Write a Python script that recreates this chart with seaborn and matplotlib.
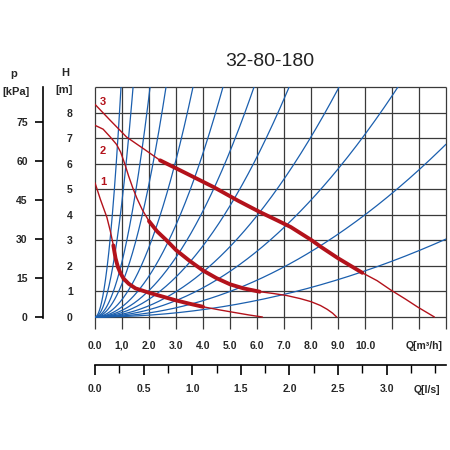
import numpy as np
import matplotlib

matplotlib.use('Agg')
import matplotlib.pyplot as plt
import seaborn as sns

# --- values ---
# pump curves: flow Q [m3/h] and head H [m]
q_curve1 = [0, 0.2, 0.44, 0.57, 0.68, 0.76, 0.85, 0.95, 1.06, 1.25, 1.5, 2.0, 2.5,
            3.0, 3.5, 4.0, 4.6, 5.2, 5.7, 6.2]
h_curve1 = [5.25, 4.6, 3.9, 3.35, 2.8, 2.3, 1.95, 1.7, 1.5, 1.3, 1.12, 0.95, 0.8,
            0.65, 0.52, 0.4, 0.28, 0.17, 0.08, 0.0]
q_curve2 = [0, 0.3, 0.56, 0.8, 0.95, 1.1, 1.25, 1.4, 1.55, 1.75, 2.0, 2.3, 2.65, 3.0,
            3.5, 4.0, 4.5, 5.0, 5.5, 6.1, 6.6, 7.1, 7.6, 8.0, 8.35, 8.6, 8.8, 8.95]
h_curve2 = [7.5, 7.35, 7.05, 6.75, 6.45, 6.0, 5.5, 5.05, 4.65, 4.2, 3.75, 3.35, 3.0, 2.62,
            2.2, 1.82, 1.52, 1.28, 1.12, 0.99, 0.92, 0.84, 0.72, 0.6, 0.45, 0.3, 0.15, 0.0]
q_curve3 = [0, 0.56, 1.17, 1.79, 2.41, 3.4, 4.4, 5.3, 6.1, 6.75, 7.25, 8.0, 8.4, 9.0,
            9.9, 10.45, 10.95, 11.5, 11.95, 12.3, 12.57]
h_curve3 = [8.32, 7.7, 7.04, 6.59, 6.13, 5.61, 5.08, 4.55, 4.11, 3.78, 3.52, 3.02, 2.72, 2.3,
            1.73, 1.42, 1.06, 0.7, 0.39, 0.17, 0.0]
curve_names = ["1", "2", "3"]
label_q = [0.3, 0.3, 0.3]
label_h = [5.3, 6.5, 8.4]
# flow range where each pump curve is drawn bold
bold_from = [0.6, 1.85, 2.4]
bold_to = [4.1, 6.4, 10.4]

# system curves (H = k*Q^2): point where each one leaves the grid
system_exit_q = [0.963, 1.41, 2.04, 2.63, 3.63, 4.74, 5.89, 7.19, 9.04, 11.22, 13.0, 13.0]
system_exit_h = [9, 9, 9, 9, 9, 9, 9, 9, 9, 9, 6.76, 3.05]

q_labels = ["0.0", "1,0", "2.0", "3.0", "4.0", "5.0", "6.0", "7.0", "8.0", "9.0", "10.0"]
h_labels = ["0", "1", "2", "3", "4", "5", "6", "7", "8"]
p_ticks = [0, 15, 30, 45, 60, 75]
ls_ticks = [0.0, 0.5, 1.0, 1.5, 2.0, 2.5, 3.0]
ls_minor = [0.25, 0.75, 1.25, 1.75, 2.25, 2.75, 3.25, 3.5]

title = "32-80-180"

RED = '#b3121b'
BLUE = '#1b5fae'
GRID = '#3a3a3a'

sns.set_theme(style='white')
plt.rcParams['font.family'] = ['Liberation Sans', 'DejaVu Sans']


def fx(px):
    return px / 450.0


def fy(py):
    return 1 - py / 450.0


fig = plt.figure(figsize=(4.5, 4.5), dpi=100)

# main H-Q grid
ybot = -0.45
ax = fig.add_axes([fx(95), fy(328.5), 351 / 450, (328.5 - 87) / 450])
ax.set_xlim(0, 13)
ax.set_ylim(ybot, 9)
for s in ax.spines.values():
    s.set_visible(False)
ax.set_facecolor('none')

ax.vlines(np.arange(14), ybot, 9, color=GRID, lw=0.9, clip_on=False, zorder=1)
ax.hlines(np.arange(10), 0, 13, color=GRID, lw=0.9, clip_on=False, zorder=1)

# system curves
for qe, he in zip(system_exit_q, system_exit_h):
    k = he / qe ** 2
    qq = np.linspace(0, qe, 200)
    ax.plot(qq, k * qq ** 2, color=BLUE, lw=0.9, zorder=2)

# pump curves
for q, h, lo, hi in zip([q_curve1, q_curve2, q_curve3],
                        [h_curve1, h_curve2, h_curve3],
                        bold_from, bold_to):
    q = np.array(q)
    h = np.array(h)
    sns.lineplot(x=q, y=h, ax=ax, color=RED, lw=1.0, sort=False, estimator=None, zorder=3)
    m = (q >= lo) & (q <= hi)
    sns.lineplot(x=q[m], y=h[m], ax=ax, color=RED, lw=2.8, sort=False, estimator=None,
                 zorder=4, solid_capstyle='round')

for name, lq, lh in zip(curve_names, label_q, label_h):
    ax.text(lq, lh, name, color=RED, fontsize=8, fontweight='bold',
            ha='center', va='center', zorder=5)

ax.set_xticks(np.arange(len(q_labels)))
ax.set_xticklabels(q_labels, fontsize=7.5, fontweight='bold')
ax.set_yticks(np.arange(len(h_labels)))
ax.set_yticklabels(h_labels, fontsize=7.5, fontweight='bold')
ax.tick_params(axis='x', length=0, pad=9)
ax.tick_params(axis='y', length=0, pad=16)
ax.set_xlabel('')
ax.set_ylabel('')

fig.text(fx(65), fy(73), 'H', fontsize=8, fontweight='bold', ha='center', va='center')
fig.text(fx(64), fy(90), '[m]', fontsize=8, fontweight='bold', ha='center', va='center')

# pressure axis [kPa]
ax_p = fig.add_axes([fx(43), fy(328.5), 0.001, (328.5 - 87) / 450])
ax_p.set_ylim(ybot * 9.81, 9 * 9.81)
ax_p.set_facecolor('none')
for side in ['top', 'right', 'bottom']:
    ax_p.spines[side].set_visible(False)
ax_p.spines['left'].set_color('black')
ax_p.spines['left'].set_linewidth(1.2)
ax_p.spines['left'].set_bounds(-0.2, 9 * 9.81)
ax_p.set_xticks([])
ax_p.set_yticks(p_ticks)
ax_p.set_yticklabels([str(v) for v in p_ticks], fontsize=7.5, fontweight='bold')
ax_p.tick_params(axis='y', direction='out', length=6, width=1.2, color='black', pad=5, left=True)
fig.text(fx(14), fy(74), 'p', fontsize=8, fontweight='bold', ha='center', va='center')
fig.text(fx(16), fy(92), '[kPa]', fontsize=8, fontweight='bold', ha='center', va='center')

# second flow axis [l/s]
ax_q = fig.add_axes([fx(95), fy(365), 351 / 450, 0.001])
ax_q.set_xlim(0, 13 / 3.6)
ax_q.set_facecolor('none')
for side in ['top', 'right', 'left']:
    ax_q.spines[side].set_visible(False)
ax_q.spines['bottom'].set_color('black')
ax_q.spines['bottom'].set_linewidth(1.2)
ax_q.set_yticks([])
ax_q.set_xticks(ls_ticks)
ax_q.set_xticklabels([f'{v:.1f}' for v in ls_ticks], fontsize=7.5, fontweight='bold')
ax_q.set_xticks(ls_minor, minor=True)
ax_q.tick_params(axis='x', which='major', direction='out', length=7, width=1.2,
                 color='black', pad=7, bottom=True)
ax_q.tick_params(axis='x', which='minor', direction='out', length=5.5, width=1.0,
                 color='black', bottom=True)

fig.text(fx(424), fy(346), 'Q[m³/h]', fontsize=7.5, fontweight='bold', ha='center', va='center')
fig.text(fx(427), fy(390), 'Q[l/s]', fontsize=7.5, fontweight='bold', ha='center', va='center')

fig.text(fx(270), fy(62), title, fontsize=14, ha='center', va='center', color='#222222')

fig.savefig('out.png', dpi=100, facecolor='white')
plt.close(fig)
